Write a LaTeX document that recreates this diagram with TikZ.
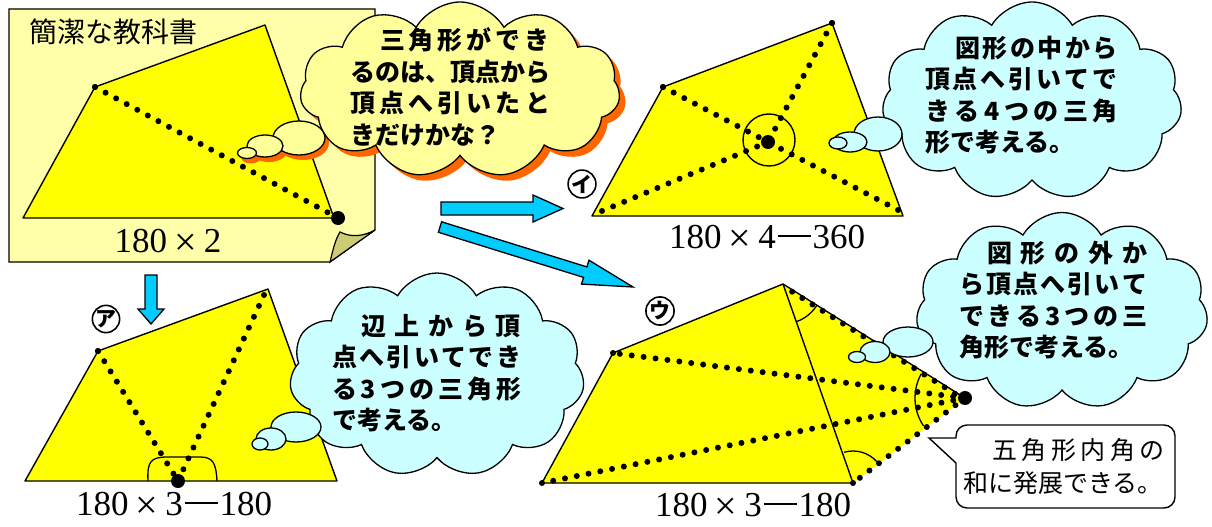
\documentclass[tikz,border=0pt]{standalone}
\usepackage{fontspec}
\setmainfont{Liberation Serif}
\newfontfamily\jp{Noto Sans CJK JP}
\usetikzlibrary{shapes.symbols,shapes.geometric}

\definecolor{noteY}{HTML}{FFFFAA}
\definecolor{cloudY}{HTML}{FFFF99}
\definecolor{cloudB}{HTML}{CCFFFF}
\definecolor{shadowO}{HTML}{FF6600}
\definecolor{figY}{HTML}{FFFF00}
\definecolor{arrowB}{HTML}{00CCFF}
\definecolor{foldC}{HTML}{CCCC77}

\newcommand\timesmark{\makebox[1.05em]{\raisebox{-3pt}{\fontsize{40}{40}\selectfont ×}}}
\newcommand\dashmark{\makebox[1.05em]{\rule[0.31em]{0.95em}{0.055em}}}

\tikzset{
  fig/.style={fill=figY, draw=black, line width=1.4pt, line join=round},
  dotline/.style={line width=6pt, line cap=round, dash pattern=on 0pt off 12pt},
  vdot/.style={circle, fill=black, inner sep=0pt, minimum size=6pt},
  bigdot/.style={circle, fill=black, inner sep=0pt, minimum size=14pt},
  cloudshape/.style={cloud, cloud puffs=11, cloud puff arc=120, cloud ignores aspect, inner sep=0pt, line width=1.3pt},
  bubble/.style={ellipse, inner sep=0pt, line width=1.3pt},
  thinktext/.style={font=\jp\bfseries\fontsize{25}{31.5}\selectfont, align=left, inner sep=0pt},
  numlabel/.style={font=\fontsize{35}{35}\selectfont, inner sep=0pt},
  marklabel/.style={circle, draw=black, line width=1.6pt, inner sep=0pt, minimum size=25pt, font=\jp\bfseries\fontsize{21}{21}\selectfont},
  blockarrow/.style={fill=arrowB, draw=black, line width=1.3pt, line join=miter},
  anglemark/.style={draw=black, line width=1.3pt},
}

\begin{document}
\begin{tikzpicture}[x=1pt, y=-1pt]
\useasboundingbox (0,0) rectangle (1212,527);

% ---------- note paper ----------
\draw[fill=noteY, line width=1.2pt] (9,9) -- (375,9) -- (375,230) -- (330,262) -- (9,262) -- cycle;
\draw[fill=foldC, line width=1.2pt] (330,262) .. controls (333,250) and (335,240) .. (340,232) .. controls (352,238) and (364,236) .. (375,230) -- cycle;
\node[font=\jp\fontsize{28}{28}\selectfont, inner sep=0pt] (title) at (113,32) {簡潔な教科書};

% ---------- figure 1 ----------
\coordinate (a1) at (95,87);
\coordinate (a2) at (265,25);
\coordinate (a3) at (334,218);
\coordinate (a4) at (23,218);
\draw[fig] (a1) -- (a2) -- (a3) -- (a4) -- cycle;
\node[bigdot] (a5) at (338,218) {};
\node[vdot] (a1d) at (a1) {};
\draw[dotline] (a1) -- (a5.center);
\node[numlabel] (lab1) at (168,242) {180\timesmark 2};

% ---------- arrows ----------
\draw[blockarrow] (441,202) -- (533,202) -- (533,195) -- (563,208.5) -- (533,222) -- (533,215) -- (441,215) -- cycle;
\draw[blockarrow] (441.6,221.8) -- (586.9,266.9) -- (589,260.2) -- (633,287) -- (581.5,284.1) -- (583.6,277.4) -- (438.4,232.3) -- cycle;
\draw[blockarrow] (145,275) -- (157,275) -- (157,309) -- (164,309) -- (151,324) -- (138,309) -- (145,309) -- cycle;

% ---------- figure I ----------
\coordinate (i1) at (663,87);
\coordinate (i2) at (832,23);
\coordinate (i3) at (903,216);
\coordinate (i4) at (592,216);
\draw[fig] (i1) -- (i2) -- (i3) -- (i4) -- cycle;
\node[bigdot] (ic) at (768,142) {};
\node[vdot] (i1d) at (i1) {};
\node[vdot] (i2d) at (i2) {};
\draw[dotline] (i1) -- (ic.center);
\draw[dotline] (i2) -- (ic.center);
\draw[dotline] ([shift={(10,-5)}]i4) -- (ic.center);
\draw[dotline] ([shift={(-5,-6)}]i3) -- (ic.center);
\node[circle, draw=black, line width=1.4pt, minimum size=52pt, inner sep=0pt] (icirc) at (769,140) {};
\node[numlabel] (lab2) at (767,238) {180\timesmark 4\dashmark 360};
\node[marklabel] (mI) at (582,184) {イ};

% ---------- figure A ----------
\coordinate (p1) at (98,351);
\coordinate (p2) at (268,289);
\coordinate (p3) at (337,481);
\coordinate (p4) at (25,481);
\draw[fig] (p1) -- (p2) -- (p3) -- (p4) -- cycle;
\node[bigdot] (pm) at (178,481) {};
\node[vdot] (p1d) at (p1) {};
\draw[dotline] (p1) -- (pm.center);
\draw[dotline] ([shift={(-4,6)}]p2) -- (pm.center);
\draw[anglemark] (148,481) .. controls (147,461) and (151,457) .. (168,457) -- (200,457) .. controls (213,457) and (216,463) .. (217,481);
\node[numlabel] (lab3) at (174,505) {180\timesmark 3\dashmark 180};
\node[marklabel] (mA) at (106,319) {ア};

% ---------- figure U ----------
\coordinate (u1) at (542,483);
\coordinate (u2) at (613,353);
\coordinate (u3) at (783,284);
\coordinate (u4) at (853,483);
\coordinate (u5) at (965,398);
\fill[figY] (u1) -- (u2) -- (u3) -- (u5) -- (u4) -- cycle;
\draw[line width=1.4pt, line join=round] (u4) -- (u1) -- (u2) -- (u3) -- (u5);
\draw[line width=1.4pt] (u3) -- (u4);
\draw[dotline] (u5) -- (u2);
\draw[dotline] (u5) -- (u1);
\draw[dotline] ([yshift=-2pt]u5) -- ([yshift=-2pt]u3);
\draw[dotline] (u5) -- (u4);
\node[vdot] (u1d) at (u1) {};
\node[vdot] (u2d) at (u2) {};
\node[vdot] (u4d) at (u4) {};
\node[bigdot] (u5d) at (u5) {};
\draw[anglemark] (u3) ++(70.6:40) arc[start angle=70.6, end angle=32.1, radius=40];
\draw[anglemark] (u4) ++(-106:32) arc[start angle=-106, end angle=-42, radius=32];
\draw[anglemark] (u5) ++(209:50) arc[start angle=209, end angle=146, radius=50];
\node[numlabel] (lab4) at (753,506) {180\timesmark 3\dashmark 180};
\node[marklabel] (mU) at (660,311) {ウ};

% ---------- shadows of the yellow thought ----------
\node[cloudshape, fill=shadowO, minimum width=320pt, minimum height=176pt] (c1s) at (466,96) {};
\node[bubble, fill=shadowO, minimum width=52pt, minimum height=34pt] (b13s) at (303,143) {};
\node[bubble, fill=shadowO, minimum width=36pt, minimum height=22pt] (b12s) at (269,151) {};
\node[bubble, fill=shadowO, minimum width=19pt, minimum height=11pt] (b11s) at (251,158) {};

% ---------- clouds ----------
\node[cloudshape, fill=cloudY, draw=black, minimum width=320pt, minimum height=176pt] (c1) at (460,90) {};
\node[bubble, fill=cloudY, draw=black, minimum width=52pt, minimum height=34pt] (b13) at (299,138) {};
\node[bubble, fill=cloudY, draw=black, minimum width=36pt, minimum height=22pt] (b12) at (265,146) {};
\node[bubble, fill=cloudY, draw=black, minimum width=19pt, minimum height=11pt] (b11) at (247,153) {};

\node[cloudshape, fill=cloudB, draw=black, minimum width=300pt, minimum height=198pt] (c2) at (1032,101) {};
\node[bubble, fill=cloudB, draw=black, minimum width=48pt, minimum height=34pt] (b23) at (878,134) {};
\node[bubble, fill=cloudB, draw=black, minimum width=34pt, minimum height=20pt] (b22) at (850,142) {};
\node[bubble, fill=cloudB, draw=black, minimum width=18pt, minimum height=12pt] (b21) at (838,143) {};

\node[cloudshape, fill=cloudB, draw=black, minimum width=292pt, minimum height=197pt] (c3) at (1062,311) {};
\node[bubble, fill=cloudB, draw=black, minimum width=50pt, minimum height=30pt] (b33) at (908,342) {};
\node[bubble, fill=cloudB, draw=black, minimum width=30pt, minimum height=21pt] (b32) at (875,352) {};
\node[bubble, fill=cloudB, draw=black, minimum width=17pt, minimum height=11pt] (b31) at (857,357) {};

\node[cloudshape, fill=cloudB, draw=black, minimum width=295pt, minimum height=204pt] (c4) at (437,375) {};
\node[bubble, fill=cloudB, draw=black, minimum width=50pt, minimum height=30pt] (b43) at (296,427) {};
\node[bubble, fill=cloudB, draw=black, minimum width=30pt, minimum height=22pt] (b42) at (271,439) {};
\node[bubble, fill=cloudB, draw=black, minimum width=16pt, minimum height=12pt] (b41) at (260,444) {};

% ---------- cloud texts ----------
\node[thinktext] (t1) at (450,87) {\hbox to 200pt{\hskip30pt 三\hfil 角\hfil 形\hfil が\hfil で\hfil き}\\るのは、頂点から\\\hbox to 200pt{頂\hfil 点\hfil へ\hfil 引\hfil い\hfil た\hfil と}\\きだけかな？};
\node[thinktext] (t2) at (1021.5,95) {\hbox to 193pt{\hskip30pt 図\hfil 形\hfil の\hfil 中\hfil か\hfil ら}\\\hbox to 193pt{頂\hfil 点\hfil へ\hfil 引\hfil い\hfil て\hfil で}\\\hbox to 193pt{き\hfil る\hfil 4\hfil つ\hfil の\hfil 三\hfil 角}\\形で考える。};
\node[thinktext] (t3) at (1053,300) {\hbox to 188pt{\hskip28pt 図\hfil 形\hfil の\hfil 外\hfil か}\\\hbox to 188pt{ら\hfil 頂\hfil 点\hfil へ\hfil 引\hfil い\hfil て}\\\hbox to 188pt{で\hfil き\hfil る\hfil 3\hfil つ\hfil の\hfil 三}\\角形で考える。};
\node[thinktext] (t4) at (426.5,373) {\hbox to 189pt{\hskip29pt 辺\hfil 上\hfil か\hfil ら\hfil 頂}\\\hbox to 189pt{点\hfil へ\hfil 引\hfil い\hfil て\hfil で\hfil き}\\\hbox to 189pt{る\hfil 3\hfil つ\hfil の\hfil 三\hfil 角\hfil 形}\\で考える。};

% ---------- callout ----------
\draw[fill=white, line width=1.4pt] (929,438) -- (956,438) -- (956,436) arc[start angle=180, end angle=270, radius=11] -- (1164,425) arc[start angle=270, end angle=360, radius=11] -- (1175,497) arc[start angle=0, end angle=90, radius=11] -- (967,508) arc[start angle=90, end angle=180, radius=11] -- (956,463) -- cycle;
\node[font=\jp\fontsize{25}{33}\selectfont, align=left, inner sep=0pt] (ct) at (1064,466.5) {\hbox to 202pt{\hskip29pt 五\hfil 角\hfil 形\hfil 内\hfil 角\hfil の}\\和に発展できる。};
\end{tikzpicture}
\end{document}
